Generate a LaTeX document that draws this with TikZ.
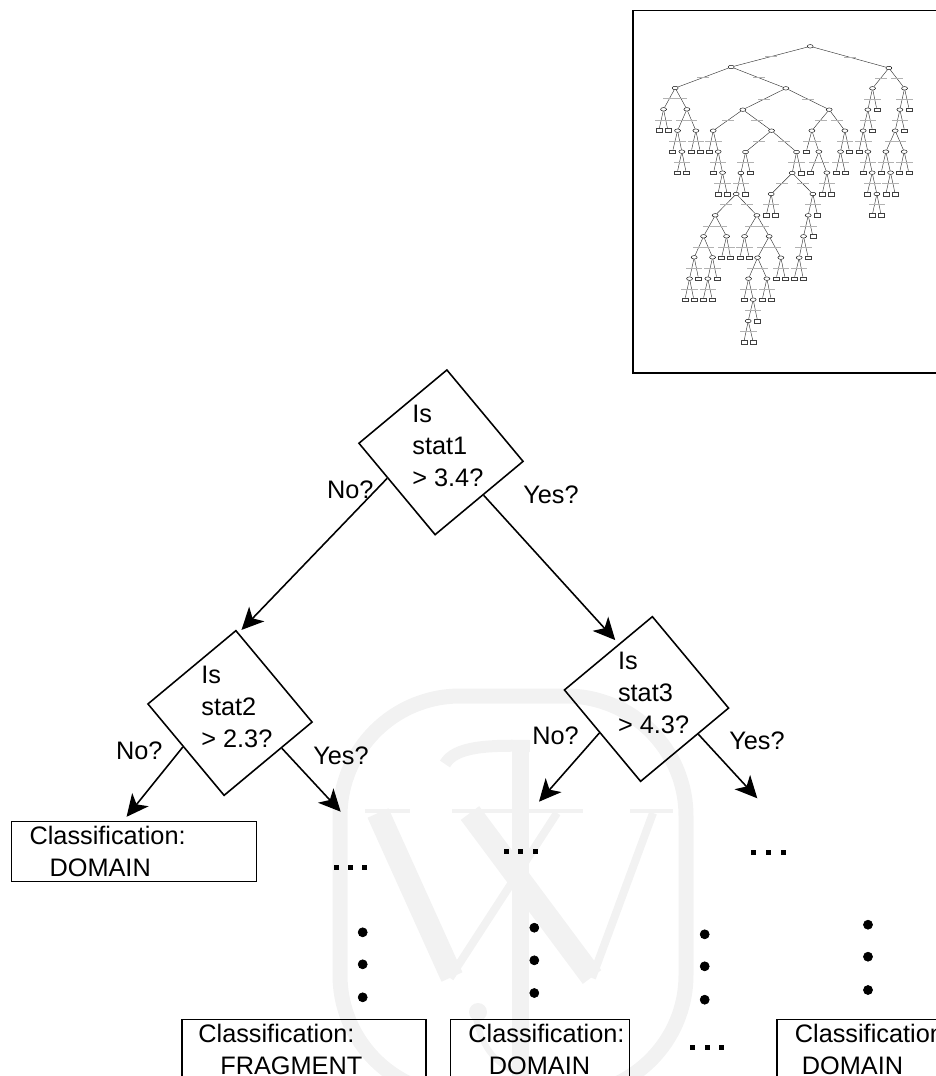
\documentclass[tikz,border=0pt]{standalone}
\usepackage{fontspec}
\setmainfont{Liberation Sans}
\usetikzlibrary{arrows.meta,shapes.geometric}
\newcommand{\classlines}[3]{\hspace*{#1}Classification:\\\hspace*{#2}#3}
\tikzset{
    textfont/.style={font=\fontsize{14.4}{18}\selectfont},
    statnode/.style={draw, rectangle, rotate=-50.2, minimum width=2.38cm, minimum height=2.29cm, inner sep=0pt, line width=0.9pt},
    stattext/.style={textfont, anchor=north west, align=left, inner sep=0pt},
    answer/.style={textfont, anchor=base west, inner sep=0pt},
    classbox/.style={draw, textfont, anchor=north west, align=left, text width=#1, minimum height=1.2cm, inner xsep=0pt, inner ysep=0pt, line width=1pt},
    branch/.style={-{Stealth[length=0.44cm,width=0.42cm,inset=0.12cm]}, line width=0.9pt},
    wmark/.style={gray!10, line cap=butt},
    treeoval/.style={draw, ellipse, inner sep=0pt, minimum width=0.12cm, minimum height=0.07cm, line width=0.25pt},
    treeleaf/.style={draw=black!75, rectangle, inner sep=0pt, minimum width=0.115cm, minimum height=0.07cm, line width=0.25pt},
    treemark/.style={fill=gray!60, inner sep=0pt, minimum width=0.24cm, minimum height=0.25pt},
    treeedge/.style={line width=0.25pt, black!80}
}
\begin{document}
\begin{tikzpicture}[x=0.02cm, y=-0.02cm]
    \useasboundingbox (0,0) rectangle (936,1076);
    % Watermark
    \draw[wmark, line width=0.3cm, rounded corners=2.4cm] (340,696) rectangle (686,1095);
    \draw[wmark, line width=0.46cm] (378,813) -- (452,977);
    \draw[wmark, line width=0.16cm] (450,978) -- (557,813);
    \draw[wmark, line width=0.46cm] (470,813) -- (592,977);
    \draw[wmark, line width=0.16cm] (592,978) -- (653,813);
    \foreach \x/\w in {365/410, 452/583, 630/673}
        \draw[wmark, line width=0.08cm] (\x,811) -- (\w,811);
    \draw[wmark, line width=0.34cm] (520,743) -- (520,1080);
    \draw[wmark, line width=0.24cm] (445,764) .. controls (455,746) and (490,745) .. (530,746);
    \fill[wmark] (478,1012) circle (0.18cm);
    \draw[wmark, line width=0.12cm] (476,1018) .. controls (482,1050) and (500,1068) .. (520,1072);
    % Small tree in the frame
    \node[draw, anchor=north west, inner sep=0pt, minimum width=8cm, minimum height=7.26cm, line width=1.1pt] (frame) at (632,9.5) {};
    \begin{scope}[xshift=12.6cm, x=0.00667cm, y=-0.00667cm]
        \node[treeoval] (o1) at (541,139) {};
        \foreach \id/\up/\x/\y in {o2/o1/304/201, o3/o1/777/204, o4/o2/136/264, o5/o2/468/265, o6/o4/101/328, o7/o4/171/328,
            o8/o7/143/392, o9/o7/198/392, o10/o8/156/455, o11/o5/339/329, o12/o5/598/329, o13/o11/250/392, o14/o11/425/392,
            o15/o13/265/455, o16/o15/278/518, o17/o14/347/456, o18/o14/500/456, o19/o17/333/519, o20/o19/319/582,
            o21/o20/256/646, o22/o20/381/646, o23/o21/221/709, o24/o21/290/709, o25/o23/193/772, o26/o23/248/772,
            o27/o25/179/836, o28/o26/234/836, o29/o22/344/709, o30/o22/418/709, o31/o30/383/773, o32/o30/453/773,
            o33/o31/356/836, o34/o31/411/836, o35/o33/370/899, o36/o35/355/963, o37/o18/487/519, o38/o37/424/582,
            o39/o37/549/582, o40/o39/535/646, o41/o40/521/709, o42/o41/508/773, o43/o12/546/392, o44/o12/645/392,
            o45/o43/567/455, o46/o45/591/518, o47/o44/632/455, o48/o3/728/265, o49/o3/824/265, o50/o48/714/329,
            o51/o50/700/392, o52/o51/714/455, o53/o52/727/518, o54/o53/741/582, o55/o49/810/329, o56/o55/796/392,
            o57/o56/768/455, o58/o56/823/455, o59/o57/782/518}
        {
            \node[treeoval] (\id) at (\x,\y) {};
            \draw[treeedge] (\up) -- node[treemark] (m\id) {} (\id);
        }
        \foreach \id/\up/\x/\y in {r1/o6/87/391, r2/o6/114/391, r3/o8/128/455, r4/o10/142/518, r5/o10/169/518, r6/o9/184/455,
            r7/o9/211/455, r8/o13/237/455, r9/o15/251/518, r10/o16/264/582, r11/o16/292/582, r12/o17/361/518, r13/o19/347/582,
            r14/o27/165/899, r15/o27/192/899, r16/o25/206/836, r17/o28/220/899, r18/o28/247/899, r19/o26/261/836,
            r20/o24/275/773, r21/o24/302/773, r22/o29/330/773, r23/o29/358/773, r24/o33/342/899, r25/o35/383/963,
            r26/o36/342/1026, r27/o36/370/1026, r28/o34/397/899, r29/o34/424/899, r30/o32/439/836, r31/o32/466/836,
            r32/o18/514/519, r33/o38/409/646, r34/o38/436/646, r35/o39/563/646, r36/o40/549/709, r37/o41/535/773,
            r38/o42/493/836, r39/o42/520/836, r40/o43/529/455, r41/o45/542/518, r42/o46/577/582, r43/o46/604/582,
            r44/o47/618/518, r45/o47/646/518, r46/o44/659/455, r47/o48/741/329, r48/o50/728/392, r49/o51/687/455,
            r50/o52/700/518, r51/o53/712/582, r52/o54/727/646, r53/o54/754/646, r54/o49/838/329, r55/o55/824/392,
            r56/o57/754/518, r57/o59/768/582, r58/o59/796/582, r59/o58/809/518, r60/o58/837/518}
        {
            \node[treeleaf] (\id) at (\x,\y) {};
            \draw[treeedge] (\up) -- node[treemark] (m\id) {} (\id);
        }
    \end{scope}
    % Questions
    \node[statnode] (stat1) at (441,452.3) {};
    \node[statnode] (stat2) at (230,713) {};
    \node[statnode] (stat3) at (646.5,699) {};
    \node[stattext] (q1) at (412,405) {Is\\stat1\\> 3.4?};
    \node[stattext] (q2) at (201,666) {Is\\stat2\\> 2.3?};
    \node[stattext] (q3) at (617.7,652) {Is\\stat3\\> 4.3?};
    % Answers
    \node[classbox=4.9cm] (class1) at (10.7,820.7) {\classlines{0.36cm}{0.76cm}{DOMAIN}};
    \node[classbox=4.88cm] (class2) at (181,1018.7) {\classlines{0.33cm}{0.77cm}{FRAGMENT}};
    \node[classbox=3.58cm] (class3) at (449.6,1018.7) {\classlines{0.36cm}{0.77cm}{DOMAIN}};
    \node[classbox=5cm] (class4) at (776,1018.7) {\classlines{0.36cm}{0.5cm}{DOMAIN}};
    % Branches
    \coordinate (open2) at (340.7,811.7);
    \coordinate (open3) at (539,801.7);
    \coordinate (open4) at (757.3,798.3);
    \draw[branch, shorten >=0.08cm] (stat1.-104) -- (stat2.134);
    \draw[branch, shorten >=0.1cm] (stat1.5) -- (stat3.167);
    \draw[branch, shorten >=0.1cm] (stat2.-94) -- (class1.109);
    \draw[branch] (stat2.16) -- (open2);
    \draw[branch] (stat3.-94) -- (open3);
    \draw[branch] (stat3.16) -- (open4);
    \node[answer] (no1) at (326.7,498) {No?};
    \node[answer] (yes1) at (523,503) {Yes?};
    \node[answer] (no2) at (115.7,759) {No?};
    \node[answer] (yes2) at (313,764) {Yes?};
    \node[answer] (no3) at (532,744.7) {No?};
    \node[answer] (yes3) at (729,749) {Yes?};
    % Square dots
    \foreach \x/\y in {336/867.3, 350.3/867.3, 364.7/867.3, 506/851, 520.3/851, 535/851,
        753/852, 768/852, 783/852, 692/1047.7, 707/1047.7, 721/1047.7}
        \fill[black] (\x,\y) +(-2.5,-2.5) rectangle +(2.5,2.5);
    % Round dots
    \foreach \x/\y in {362.7/932.3, 362.7/964.3, 362.7/997.3, 534.3/927.7, 534.3/960.3, 534.3/993,
        704.7/934.3, 704.7/966.3, 704.7/999.7, 868/924.7, 868/956.7, 868/990}
        \filldraw[black] (\x,\y) circle (0.09cm);
\end{tikzpicture}
\end{document}
